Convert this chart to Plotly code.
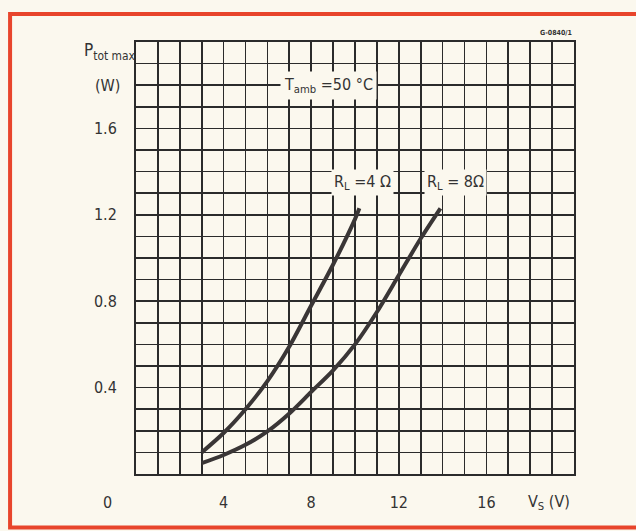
import plotly.graph_objects as go

# Data
v_4ohm = [3.0, 4.0, 5.0, 6.0, 7.0, 8.0, 9.0, 10.0, 10.2]
p_4ohm = [0.10, 0.19, 0.30, 0.43, 0.59, 0.78, 0.97, 1.18, 1.23]

v_8ohm = [3.0, 4.0, 5.0, 6.0, 7.0, 8.0, 9.0, 10.0, 11.0, 12.0, 13.0, 13.9]
p_8ohm = [0.05, 0.088, 0.135, 0.197, 0.28, 0.38, 0.48, 0.60, 0.75, 0.92, 1.09, 1.23]

x_tickvals = [4, 8, 12, 16]
x_ticktext = ["4", "8", "12", "16"]
y_tickvals = [0.4, 0.8, 1.2, 1.6]
y_ticktext = ["0.4", "0.8", "1.2", "1.6"]

PAPER = "#fbf8ee"
INK = "#2b2b2b"
CURVE = "#3a3636"
FONT = "Liberation Sans Narrow, DejaVu Sans Condensed, Arial Narrow, sans-serif"

fig = go.Figure()
fig.add_trace(go.Scatter(x=v_4ohm, y=p_4ohm, mode="lines",
                         line=dict(color=CURVE, width=4, shape="spline", smoothing=0.8),
                         hoverinfo="skip", showlegend=False))
fig.add_trace(go.Scatter(x=v_8ohm, y=p_8ohm, mode="lines",
                         line=dict(color=CURVE, width=4, shape="spline", smoothing=0.8),
                         hoverinfo="skip", showlegend=False))

grid = dict(showgrid=True, gridcolor=INK, gridwidth=1.6, zeroline=False,
            showline=True, linecolor=INK, linewidth=2, mirror=True,
            ticks="", tickfont=dict(family=FONT, size=16, color="#333333"))

fig.update_xaxes(range=[0, 20], tickvals=x_tickvals, ticktext=x_ticktext,
                 ticklabelstandoff=13,
                 minor=dict(dtick=1, showgrid=True, gridcolor=INK, gridwidth=1.6, tick0=0),
                 fixedrange=True, **grid)
fig.update_yaxes(range=[0, 2.0], tickvals=y_tickvals, ticktext=y_ticktext,
                 ticklabelstandoff=14,
                 minor=dict(dtick=0.1, showgrid=True, gridcolor=INK, gridwidth=1.6, tick0=0),
                 fixedrange=True, **grid)

txt = dict(family=FONT, size=16, color="#333333")
ann = [
    dict(x=0, y=0, xref="x", yref="y", text="0", showarrow=False,
         xshift=-29, yshift=-28, font=txt),
    dict(x=0.0, y=1.0, xref="paper", yref="paper", text="P<sub>tot max</sub>",
         showarrow=False, xanchor="right", yanchor="middle", xshift=1, yshift=-9,
         font=dict(family=FONT, size=17, color="#333333")),
    dict(x=0.0, y=1.8, xref="x", yref="y", text="(W)", showarrow=False,
         xanchor="right", xshift=-14, font=txt),
    dict(x=19.9, y=0, xref="x", yref="y", text="V<sub>S</sub> (V)", showarrow=False,
         xanchor="right", yshift=-28, font=txt),
    dict(x=8.8, y=1.8, xref="x", yref="y", text="T<sub>amb</sub> =50 °C", showarrow=False,
         bgcolor=PAPER, borderpad=3, font=txt),
    dict(x=10.35, y=1.35, xref="x", yref="y", text="R<sub>L</sub> =4 Ω", showarrow=False,
         bgcolor=PAPER, borderpad=2, font=txt),
    dict(x=14.6, y=1.35, xref="x", yref="y", text="R<sub>L</sub> = 8Ω", showarrow=False,
         bgcolor=PAPER, borderpad=2, font=txt),
    dict(x=1.0, y=1.0, xref="paper", yref="paper", text="<b>G-0840/1</b>", showarrow=False,
         xanchor="right", yanchor="bottom", yshift=3,
         font=dict(family=FONT, size=7, color="#333333")),
]

fig.update_layout(
    width=636, height=531,
    margin=dict(l=136, r=62, t=42, b=57),
    paper_bgcolor=PAPER, plot_bgcolor=PAPER,
    annotations=ann,
    shapes=[dict(type="rect", xref="paper", yref="paper",
                 x0=-0.2875, x1=1.25, y0=-0.1238, y1=1.0648,
                 line=dict(color="#e8452c", width=4), layer="above")],
    showlegend=False,
)

fig.write_html("out.html",
               config={"displayModeBar": False, "staticPlot": True},
               post_script="document.body.style.margin='0';"
                           "document.body.style.background='#fbf8ee';"
                           "document.body.style.overflow='hidden';")
